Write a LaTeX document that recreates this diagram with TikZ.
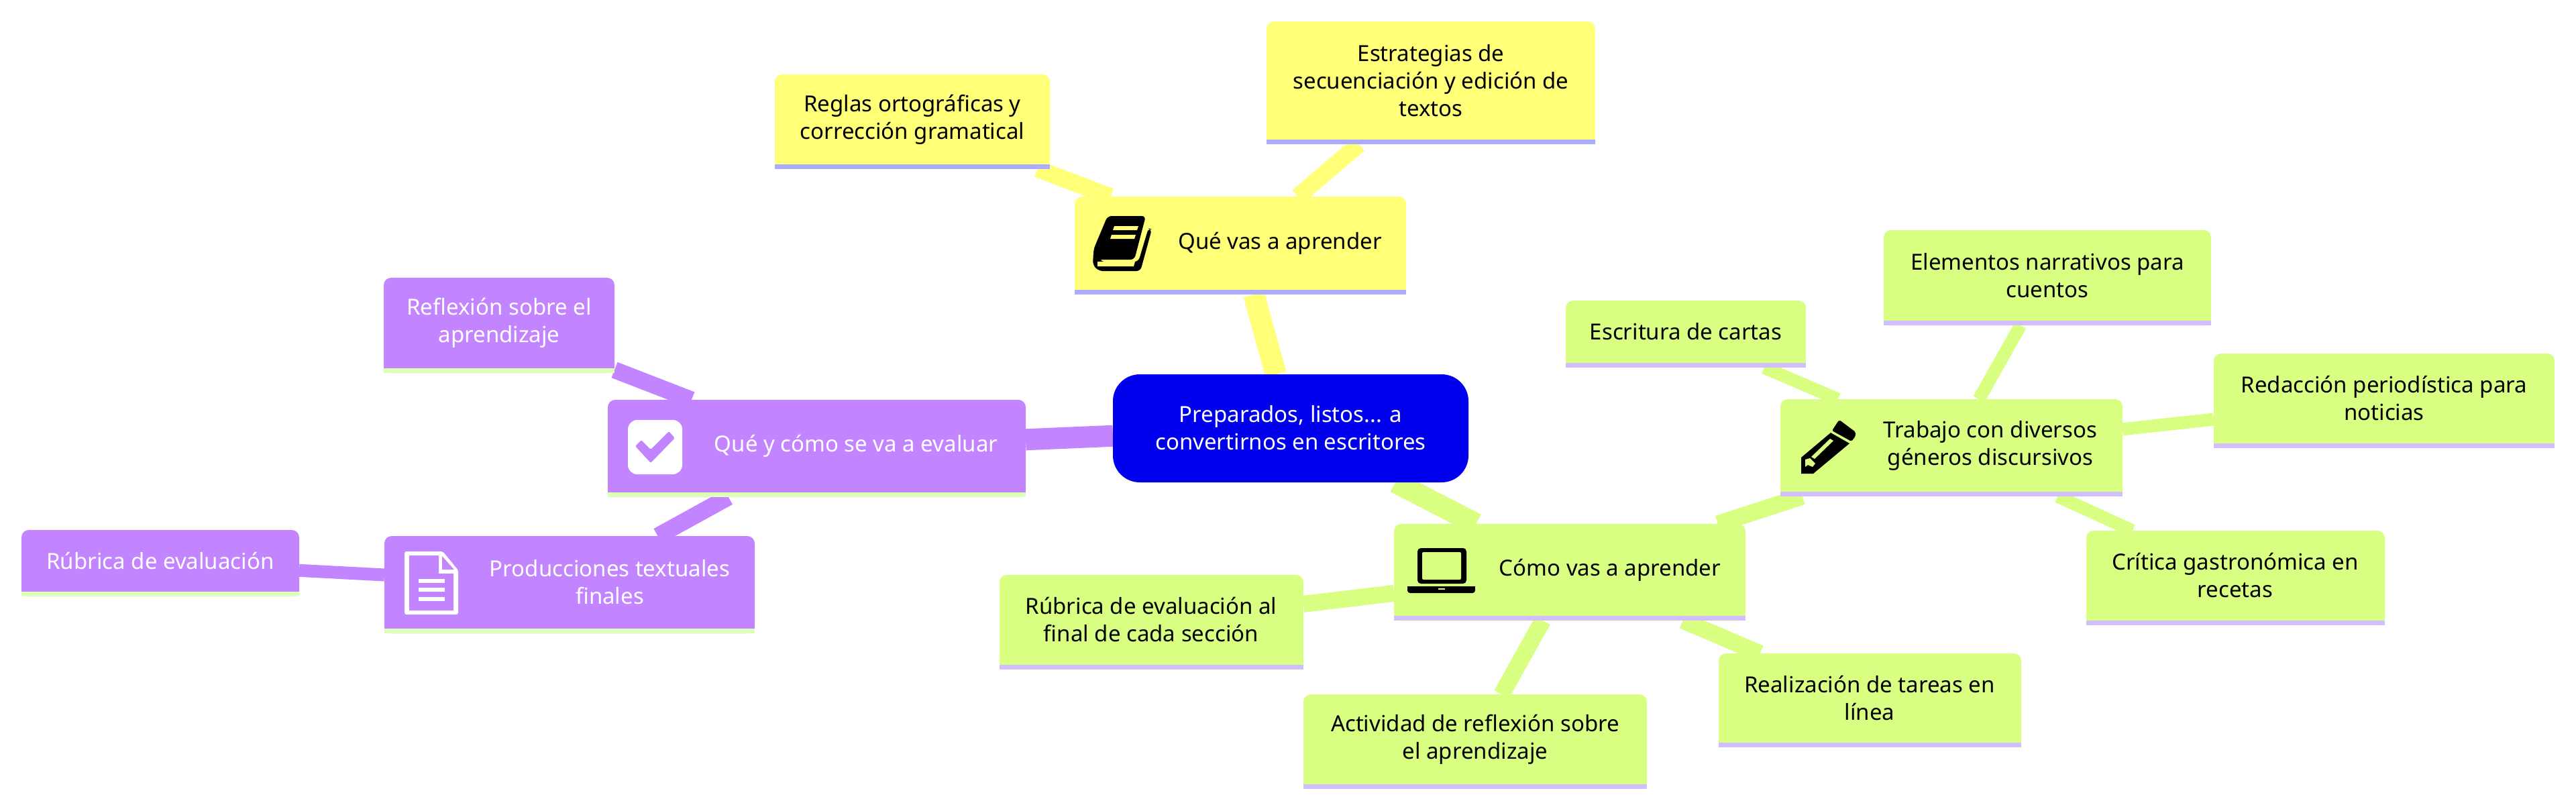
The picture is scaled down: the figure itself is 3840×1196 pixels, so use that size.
\documentclass[tikz,border=0pt]{standalone}
\usepackage{fontspec}
\setmainfont{Noto Sans}
\usetikzlibrary{backgrounds}
\definecolor{yF}{HTML}{FFFF78}\definecolor{yS}{HTML}{ACACFF}\definecolor{yT}{HTML}{000000}
\definecolor{gF}{HTML}{D9FF82}\definecolor{gS}{HTML}{D2BDFF}\definecolor{gT}{HTML}{000000}
\definecolor{pF}{HTML}{C285FF}\definecolor{pS}{HTML}{DEFFB8}\definecolor{pT}{HTML}{FFFFFF}
\definecolor{bF}{HTML}{0000EC}
\tikzset{
  mmshape/.style={rectangle,inner sep=0pt,outer sep=0pt,rounded corners=5.5pt,draw=none},
  mmtext/.style={inner sep=0pt,outer sep=0pt,align=center,font=\fontsize{16.5}{20.5}\selectfont},
  lvlA/.style={line width=16pt},
  lvlB/.style={line width=12.5pt},
  lvlC/.style={line width=9.5pt},
}
% name, x1, y1, x2, y2, text centre x, theme letter, text
\newcommand\mmbox[8]{%
  \node[mmshape,fill=#7F,minimum width={(#4-#2)*0.5pt},minimum height={(#5-#3)*0.5pt}] (#1) at ({(#2+#4)/2},{(#3+#5)/2}) {};
  \fill[#7F] ([yshift=9pt]#1.south west) rectangle (#1.south east);
  \fill[#7S] (#1.south west) rectangle ([yshift=3.5pt]#1.south east);
  \node[mmtext,text=#7T] (#1-t) at ({#6},{(#3+#5-7)/2}) {#8};
}
\begin{document}
\begin{tikzpicture}[x=0.5pt,y=-0.5pt]
\useasboundingbox (0,0) rectangle (3840,1196);
% root
\node[mmshape,rounded corners=20pt,fill=bF,minimum width=265pt,minimum height=80.5pt] (root) at (1924,638.5) {};
\node[mmtext,text=white] (root-t) at (1924,638) {Preparados, listos... a\\convertirnos en escritores};
% yellow
\mmbox{qa}{1602}{293}{2096}{439}{1908}{y}{Qué vas a aprender}
\mmbox{reglas}{1155}{111}{1565}{252}{1360}{y}{Reglas ortográficas y\\corrección gramatical}
\mmbox{estr}{1888}{32}{2378}{215}{2133}{y}{Estrategias de\\secuenciación y edición de\\textos}
% purple
\mmbox{ev}{906}{596}{1529}{741}{1276}{p}{Qué y cómo se va a evaluar}
\mmbox{refl}{572}{414}{916}{556}{744}{p}{Reflexión sobre el\\aprendizaje}
\mmbox{prod}{573}{799}{1125}{944}{909}{p}{Producciones textuales\\finales}
\mmbox{rub}{32}{790}{446}{889}{239}{p}{Rúbrica de evaluación}
% green
\mmbox{como}{2078}{781}{2602}{925}{2400}{g}{Cómo vas a aprender}
\mmbox{trab}{2654}{595}{3164}{740}{2967}{g}{Trabajo con diversos\\géneros discursivos}
\mmbox{esc}{2334}{448}{2692}{548}{2513}{g}{Escritura de cartas}
\mmbox{elem}{2808}{343}{3296}{485}{3052}{g}{Elementos narrativos para\\cuentos}
\mmbox{red}{3300}{527}{3808}{668}{3554}{g}{Redacción periodística para\\noticias}
\mmbox{crit}{3110}{791}{3555}{932}{3332}{g}{Crítica gastronómica en\\recetas}
\mmbox{rubf}{1490}{857}{1943}{998}{1716}{g}{Rúbrica de evaluación al\\final de cada sección}
\mmbox{act}{1943}{1035}{2455}{1176}{2199}{g}{Actividad de reflexión sobre\\el aprendizaje}
\mmbox{real}{2562}{974}{3013}{1114}{2787}{g}{Realización de tareas en\\línea}
% icons: book
\fill[black,rounded corners=3pt] (1651,322) -- (1708,322) -- (1691,387) -- (1630,387) -- (1630,372) -- cycle;
\fill[black,rounded corners=3pt] (1630,375) -- (1640,375) -- (1640,390) -- (1697,390) -- (1712,340) -- (1717,342) -- (1700,404) -- (1638,404) -- (1629,395) -- cycle;
\fill[yF] (1636,390) -- (1692,390) -- (1690,397) -- (1636,397) -- cycle;
\fill[yF] (1661,337) -- (1697,337) -- (1695,343) -- (1659,343) -- cycle;
\fill[yF] (1657,350) -- (1693,350) -- (1691,356) -- (1655,356) -- cycle;
% icons: check
\fill[white,rounded corners=7pt] (936,626) rectangle (1017,707);
\fill[pF,rounded corners=1pt] (947,665) -- (956,656) -- (970,670) -- (997,643) -- (1006,653) -- (970,690) -- cycle;
% icons: file
\fill[white,rounded corners=1.5pt] (603,822) -- (660,822) -- (683,850) -- (683,916) -- (603,916) -- cycle;
\fill[pF] (610,828) -- (654,828) -- (654,855) -- (676,855) -- (676,910) -- (610,910) -- cycle;
\fill[pF] (659,829) -- (677,849) -- (659,849) -- cycle;
\fill[white] (624,863) rectangle (663,869);
\fill[white] (624,876) rectangle (663,882);
\fill[white] (624,890) rectangle (663,896);
% icons: laptop
\fill[black,rounded corners=2.5pt] (2113,817) rectangle (2186,870);
\fill[gF,rounded corners=1pt] (2120,823) rectangle (2178,864);
\fill[black,rounded corners=2pt] (2098,874) rectangle (2199,884);
\fill[black] (2098,874) rectangle (2199,879);
\fill[gF] (2144,877) rectangle (2154,879);
% icons: pencil
\fill[black,rounded corners=1pt] (2742,626) -- (2766,644) -- (2766,650) -- (2760,658) -- (2731,642) -- (2740,628) -- cycle;
\fill[black] (2729,645) -- (2757,661) -- (2703,706) -- (2685,706) -- (2685,682) -- cycle;
\fill[gF] (2728,654) -- (2733,657) -- (2705,684) -- (2700,681) -- cycle;
\fill[gF] (2691,685) -- (2698,683) -- (2706,691) -- (2702,696) -- (2695,693) -- (2691,696) -- cycle;
% connectors
\begin{scope}[on background layer]
\fill[white] (0,0) rectangle (3840,1196);
\draw[lvlA,yF] (root) -- (qa);
\draw[lvlA,pF] (root) -- (ev);
\draw[lvlA,gF] (root) -- (como);
\draw[lvlB,yF] (qa) -- (reglas);
\draw[lvlB,yF] (qa) -- (estr);
\draw[lvlB,pF] (ev) -- (refl);
\draw[lvlB,pF] (ev) -- (prod);
\draw[lvlC,pF] (prod) -- (rub);
\draw[lvlB,gF] (como) -- (trab);
\draw[lvlB,gF] (como) -- (rubf);
\draw[lvlB,gF] (como) -- (act);
\draw[lvlB,gF] (como) -- (real);
\draw[lvlC,gF] (trab) -- (esc);
\draw[lvlC,gF] (trab) -- (elem);
\draw[lvlC,gF] (trab) -- (red);
\draw[lvlC,gF] (trab) -- (crit);
\end{scope}
\end{tikzpicture}
\end{document}
